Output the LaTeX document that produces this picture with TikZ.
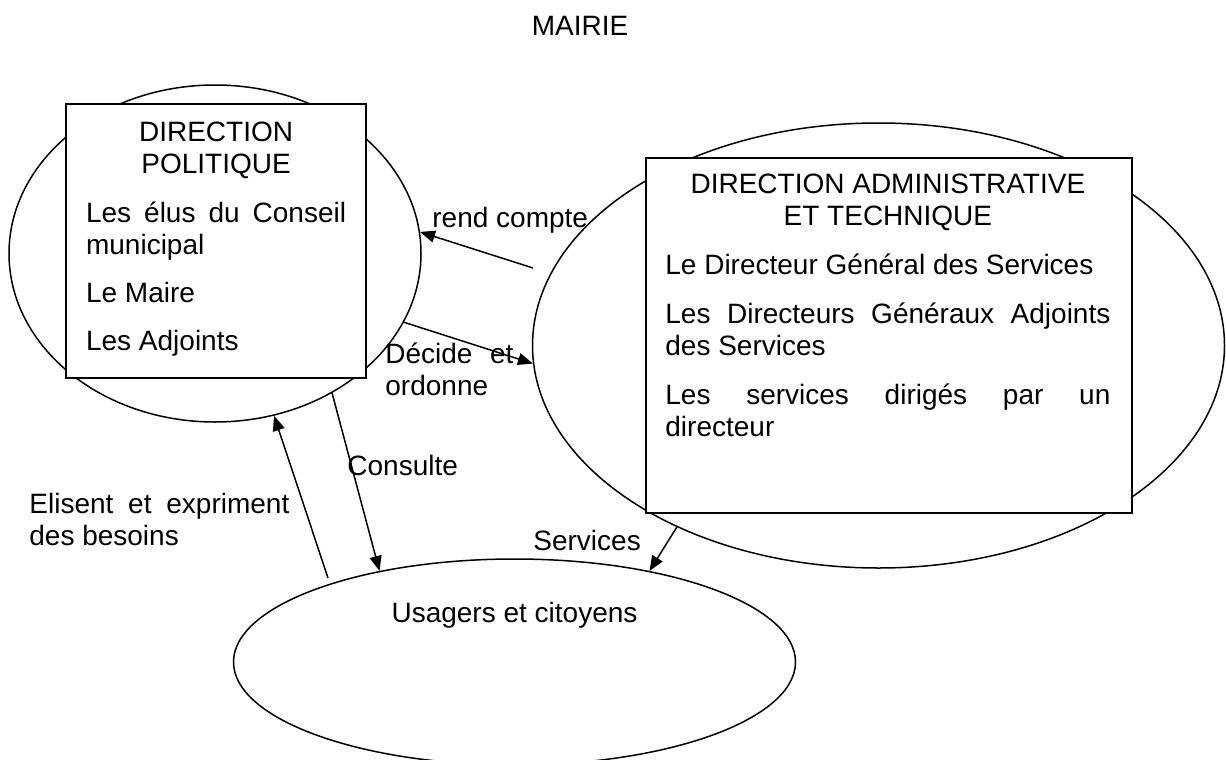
\documentclass[tikz,border=0pt]{standalone}
\usepackage{fontspec}
\setmainfont{Liberation Sans}
\usetikzlibrary{shapes.geometric,arrows.meta}
\hyphenpenalty=10000
\exhyphenpenalty=10000

\begin{document}
\begin{tikzpicture}[x=0.5pt,y=-0.5pt,
  every node/.style={font=\fontsize{14pt}{16pt}\selectfont, inner sep=0pt},
  bubble/.style={draw, ellipse, line width=0.75pt, inner sep=0pt},
  panel/.style={draw, fill=white, rectangle, line width=0.75pt, anchor=north west, inner sep=0pt},
  lbl/.style={anchor=base west},
  para/.style={anchor=base west, align=justify},
  flow/.style={line width=0.75pt, -{Triangle[length=7.5pt,width=6pt]}}
]
\useasboundingbox (0,0) rectangle (1226,760);
\clip (0,0) rectangle (1226,760);

% title
\node[anchor=base] (title) at (580,35) {MAIRIE};

% the three spheres
\node[bubble, minimum width=206pt, minimum height=168.5pt] (pol) at (215,253.5) {};
\node[bubble, minimum width=346pt, minimum height=222.5pt] (adm) at (878.5,345.5) {};
\node[bubble, minimum width=281pt, minimum height=103pt] (usr) at (514.5,662) {};

% boxes laid over the spheres
\node[panel, minimum width=150pt, minimum height=137pt] (polbox) at (65,103) {};
\node[panel, minimum width=243pt, minimum height=177.5pt] (admbox) at (645,157) {};

% box contents
\node[para, text width=130pt] (poltxt) at (85.7,141.7) {%
  \setlength{\parskip}{8.2pt}%
  {\centering DIRECTION\\POLITIQUE\par}
  Les élus du Conseil\linebreak municipal\par
  Le Maire\par
  Les Adjoints};

\node[para, text width=222.5pt] (admtxt) at (665,193) {%
  \setlength{\parskip}{8.5pt}%
  {\centering DIRECTION ADMINISTRATIVE\\ET TECHNIQUE\par}
  Le Directeur Général des Services\par
  Les Directeurs Généraux Adjoints\linebreak des Services\par
  Les services dirigés par un\linebreak directeur};

\node[anchor=base] (usrtxt) at (514.5,622) {Usagers et citoyens};

% free ends of two connectors
\coordinate (rcstart) at (533,268);
\coordinate (elstart) at (328,578);

% connectors
\draw[flow] (rcstart) -- (pol.6);
\draw[flow] (pol.-20) -- (adm.-177.8);
\draw[flow] (pol.-50.6) -- (usr.146.1);
\draw[flow] (elstart) -- (pol.-70);
\draw[flow] (adm.-138) -- (usr.34.8);

% connector labels
\node[lbl] (rc) at (432,227) {rend compte};
\node[para, text width=64pt] (dec) at (385,363) {Décide et\linebreak ordonne};
\node[lbl] (cons) at (347,475) {Consulte};
\node[para, text width=130pt] (eli) at (29,513) {Elisent et expriment\linebreak des besoins};
\node[lbl] (serv) at (533,550) {Services};
\end{tikzpicture}
\end{document}
